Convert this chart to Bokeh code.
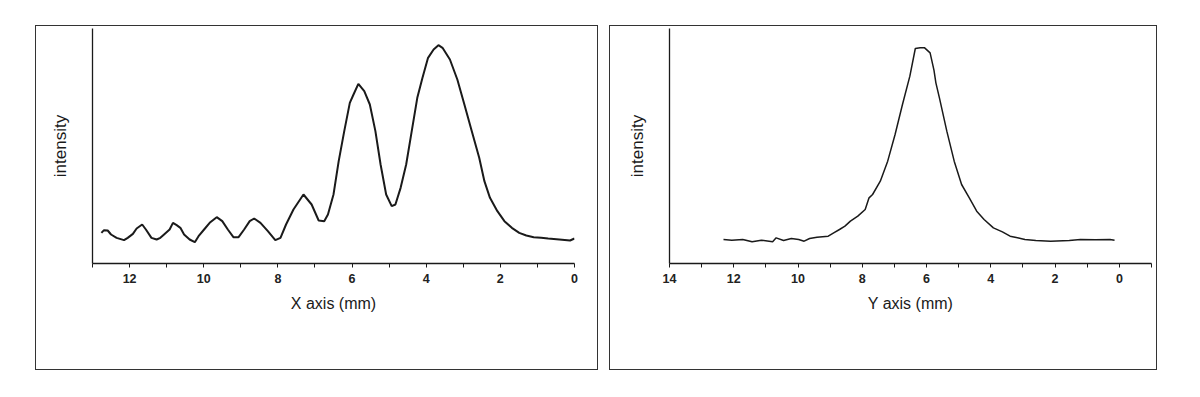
from bokeh.plotting import figure
from bokeh.layouts import row
from bokeh.models import Range1d, FixedTicker
from bokeh.embed import file_html
from bokeh.resources import INLINE

# Left panel: X-axis profile
x_pos = [12.76, 12.69, 12.59, 12.50, 12.35, 12.15, 12.05, 11.91, 11.81, 11.66, 11.56, 11.41,
         11.27, 11.17, 11.07, 10.92, 10.83, 10.73, 10.63, 10.53, 10.38, 10.24, 10.14, 9.99,
         9.84, 9.65, 9.50, 9.35, 9.20, 9.06, 8.91, 8.76, 8.64, 8.47, 8.27, 8.07, 7.93, 7.78,
         7.58, 7.31, 7.09, 6.90, 6.75, 6.65, 6.50, 6.36, 6.21, 6.06, 5.96, 5.83, 5.67, 5.52,
         5.37, 5.23, 5.08, 4.93, 4.83, 4.69, 4.54, 4.39, 4.24, 4.10, 3.95, 3.80, 3.67, 3.56,
         3.36, 3.16, 2.97, 2.77, 2.57, 2.43, 2.28, 2.08, 1.89, 1.69, 1.49, 1.30, 1.10, 0.90,
         0.71, 0.41, 0.12, 0.0]
x_int = [92, 100, 99, 87, 77, 70, 77, 89, 105, 117, 102, 77,
         72, 77, 87, 102, 122, 115, 107, 87, 72, 64, 82, 102,
         122, 139, 127, 102, 79, 79, 102, 127, 135, 122, 97, 70, 77, 117,
         162, 207, 177, 129, 127, 147, 207, 307, 397, 482, 507, 539, 517, 477,
         397, 297, 207, 172, 177, 227, 297, 397, 497, 557, 617, 642, 655, 647,
         612, 552, 477, 397, 317, 247, 197, 157, 127, 107, 92, 84, 79, 77,
         75, 72, 69, 75]

# Right panel: Y-axis profile
y_pos = [12.32, 12.06, 11.72, 11.43, 11.14, 10.79, 10.68, 10.45, 10.21, 9.98, 9.81, 9.64,
         9.41, 9.06, 8.89, 8.71, 8.54, 8.37, 8.14, 7.91, 7.79, 7.68, 7.44, 7.21, 6.98,
         6.75, 6.52, 6.35, 6.20, 6.06, 5.89, 5.77, 5.71, 5.60, 5.37, 5.14, 4.91, 4.67,
         4.44, 4.21, 3.92, 3.64, 3.40, 3.17, 2.94, 2.60, 2.14, 1.56, 1.21, 0.75, 0.29, 0.15]
y_int = [72, 70, 72, 65, 70, 65, 77, 69, 75, 72, 67, 75,
         79, 82, 92, 102, 112, 127, 142, 162, 197, 207, 247, 307, 387,
         477, 562, 645, 647, 647, 632, 580, 542, 497, 397, 307, 237, 197,
         157, 132, 107, 95, 82, 77, 72, 69, 67, 69, 72, 71, 72, 70]

x_labels = ["X axis (mm)"]
y_labels = ["Y axis (mm)"]
FONT = "Liberation Sans"
INK = "#1a1a1a"


def make_panel(xs, ys, xr, ticks, minor, label, width, left, right, lw, margin):
    p = figure(width=width, height=345, output_backend="svg", toolbar_location=None,
               x_range=Range1d(*xr), y_range=Range1d(0, 705),
               min_border_left=left, min_border_right=right,
               min_border_top=2, min_border_bottom=108)
    p.outline_line_color = None
    p.grid.visible = False
    p.line(xs, ys, line_color=INK, line_width=lw)
    ax = p.xaxis[0]
    ax.ticker = FixedTicker(ticks=ticks, minor_ticks=minor)
    ax.axis_label = label
    ax.axis_label_text_font = FONT
    ax.axis_label_text_font_size = "16px"
    ax.axis_label_text_font_style = "normal"
    ax.axis_label_text_color = INK
    ax.axis_label_standoff = 9
    ax.major_label_text_font = FONT
    ax.major_label_text_font_size = "12.5px"
    ax.major_label_text_font_style = "bold"
    ax.major_label_text_color = "#222222"
    ax.major_label_standoff = 6
    ax.axis_line_color = INK
    ax.axis_line_width = 1.3
    ax.major_tick_line_color = INK
    ax.minor_tick_line_color = INK
    ax.major_tick_in = 0
    ax.major_tick_out = 4
    ax.minor_tick_in = 0
    ax.minor_tick_out = 4
    ay = p.yaxis[0]
    ay.ticker = FixedTicker(ticks=[])
    ay.axis_label = "intensity"
    ay.axis_label_text_font = FONT
    ay.axis_label_text_font_size = "17px"
    ay.axis_label_text_font_style = "normal"
    ay.axis_label_text_color = INK
    ay.axis_label_standoff = 23
    ay.axis_line_color = INK
    ay.axis_line_width = 1.3
    ay.major_tick_line_color = None
    ay.minor_tick_line_color = None
    p.styles = {"border": "1px solid #333", "box-sizing": "border-box"}
    p.margin = margin
    return p


p1 = make_panel(x_pos, x_int, (13, 0), [0, 2, 4, 6, 8, 10, 12], [1, 3, 5, 7, 9, 11, 13],
                x_labels[0], 563, 56, 25, 2.0, (25, 0, 0, 35))
p2 = make_panel(y_pos, y_int, (14, -1), [0, 2, 4, 6, 8, 10, 12, 14], [-1, 1, 3, 5, 7, 9, 11, 13],
                y_labels[0], 548, 59, 7, 1.5, (25, 0, 0, 11))

layout = row(p1, p2)
open("out.html", "w").write(file_html(layout, INLINE))
